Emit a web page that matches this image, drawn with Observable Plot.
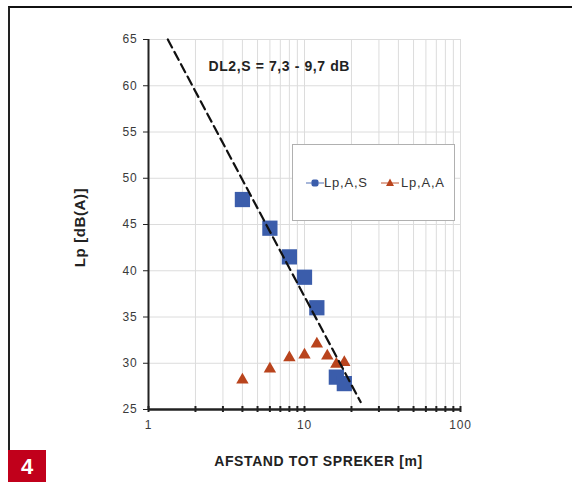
<!DOCTYPE html>
<html>
<head>
<meta charset="utf-8">
<script src="https://cdn.jsdelivr.net/npm/d3@7"></script>
<script src="https://cdn.jsdelivr.net/npm/@observablehq/plot@0.6"></script>
<style>
  html, body { margin: 0; padding: 0; background: #fff; }
  #wrap { position: relative; width: 572px; height: 482px; overflow: hidden; font-family: "Liberation Sans", Arial, sans-serif; }
  #frame { position: absolute; left: 8px; top: 6px; width: 570px; height: 444px; border-top: 2px solid #111; border-left: 2px solid #222; box-sizing: border-box; }
  #badge { position: absolute; left: 8px; top: 450px; width: 38px; height: 32px; background: #c1001b; color: #fff; font: bold 22px "Liberation Sans", Arial, sans-serif; text-align: center; line-height: 33px; }
  #legend { position: absolute; left: 292px; top: 144px; width: 163px; height: 77px; border: 1px solid #b0b0b0; background: #fff; box-sizing: border-box; }
  #legend .item { position: absolute; top: 30px; font-size: 13px; letter-spacing: 0.8px; color: #333; line-height: 16px; }
  #legend svg { position: absolute; top: 31px; }
  #chart { position: absolute; left: 0; top: 0; }
</style>
</head>
<body>
<div id="wrap">
  <div id="chart"></div>
  <div id="frame"></div>
  <div id="legend"></div>
  <div id="badge">4</div>
</div>
<script>
// ---- data ----
const distanceS = [4, 6, 8, 10, 12, 16, 18];
const lpAS = [47.7, 44.6, 41.5, 39.3, 36.0, 28.5, 27.8];
const distanceA = [4, 6, 8, 10, 12, 14, 16, 18];
const lpAA = [28.2, 29.4, 30.6, 30.9, 32.1, 30.8, 29.9, 30.1];
const trendX = [1.33, 22.9];
const trendY = [65, 25.8];
const seriesNames = ["Lp,A,S", "Lp,A,A"];
const xTicks = [1,2,3,4,5,6,7,8,9,10,20,30,40,50,60,70,80,90,100];
const xTickLabels = [1, 10, 100];
const yTicks = [25, 30, 35, 40, 45, 50, 55, 60, 65];
const annotation = "DL2,S = 7,3 - 9,7 dB";
const xTitle = "AFSTAND TOT SPREKER [m]";
const yTitle = "Lp [dB(A)]";

const blue = "#3b5dab";
const rust = "#b9441d";

const squares = distanceS.map((d, i) => ({x: d, y: lpAS[i]}));
const triangles = distanceA.map((d, i) => ({x: d, y: lpAA[i]}));
const trend = trendX.map((d, i) => ({x: d, y: trendY[i]}));

const chart = Plot.plot({
  width: 572,
  height: 482,
  marginLeft: 148,
  marginRight: 112,
  marginTop: 39,
  marginBottom: 73,
  style: {fontFamily: "'Liberation Sans', Arial, sans-serif", fontSize: "12px", background: "transparent", color: "#3a3a3a"},
  x: {type: "log", domain: [1, 100]},
  y: {domain: [25, 65]},
  marks: [
    Plot.gridX(xTicks, {stroke: "#dcdcdc", strokeOpacity: 1}),
    Plot.gridY(yTicks, {stroke: "#dcdcdc", strokeOpacity: 1}),
    Plot.axisX(xTicks, {tickSize: 0, tickPadding: 11, label: null, tickFormat: d => xTickLabels.includes(d) ? String(d) : ""}),
    Plot.axisY(yTicks, {tickSize: 5, tickPadding: 6, label: null, stroke: "#222"}),
    Plot.ruleX([1], {stroke: "#222", strokeWidth: 2}),
    Plot.ruleY([25], {stroke: "#222", strokeWidth: 2.5}),
    Plot.ruleX(xTicks, {y1: 25, y2: 25, insetTop: -3, insetBottom: -3, stroke: "#222", strokeWidth: 2}),
    Plot.dot(squares, {x: "x", y: "y", symbol: "square", r: 8.6, fill: blue, stroke: "none"}),
    Plot.dot(triangles, {x: "x", y: "y", symbol: "triangle", r: 4.6, fill: rust, stroke: "none"}),
    Plot.line(trend, {x: "x", y: "y", stroke: "#111", strokeWidth: 2.2, strokeDasharray: "9,5"}),
    Plot.text([annotation], {frameAnchor: "top-left", dx: 60, dy: 27, textAnchor: "start", lineAnchor: "middle", fontSize: 14, fontWeight: "bold", fill: "#222", text: d => d}),
    Plot.text([xTitle], {frameAnchor: "bottom", dx: 14, dy: 52, textAnchor: "middle", lineAnchor: "middle", fontSize: 14, fontWeight: "bold", fill: "#222", text: d => d}),
    Plot.text([yTitle], {frameAnchor: "left", dx: -68, dy: 3, rotate: -90, textAnchor: "middle", lineAnchor: "middle", fontSize: 15, fontWeight: "bold", fill: "#222", text: d => d})
  ]
});
document.getElementById("chart").appendChild(chart);

// letter-spacing for tick labels to mimic the wide source font
chart.querySelectorAll("g[aria-label='x-axis tick label'] text, g[aria-label='y-axis tick label'] text").forEach(t => t.setAttribute("letter-spacing", "0.8"));
chart.querySelectorAll("g[aria-label='text'] text").forEach(t => t.setAttribute("letter-spacing", "0.6"));

// legend
const legend = document.getElementById("legend");
const items = [
  {name: seriesNames[0], color: blue, shape: "square", left: 12, textLeft: 31},
  {name: seriesNames[1], color: rust, shape: "triangle", left: 87, textLeft: 108}
];
items.forEach(it => {
  const svg = d3.create("svg").attr("width", 20).attr("height", 14).style("left", it.left + "px");
  svg.append("line").attr("x1", 1).attr("x2", 19).attr("y1", 7).attr("y2", 7).attr("stroke", it.color).attr("stroke-width", 1.5).attr("stroke-opacity", 0.6);
  if (it.shape === "square") {
    svg.append("rect").attr("x", 6.5).attr("y", 3.5).attr("width", 7).attr("height", 7).attr("rx", 2).attr("fill", it.color);
  } else {
    svg.append("path").attr("d", "M10,2.5 L14,10 L6,10 Z").attr("fill", it.color);
  }
  legend.appendChild(svg.node());
  const span = document.createElement("div");
  span.className = "item";
  span.style.left = it.textLeft + "px";
  span.textContent = it.name;
  legend.appendChild(span);
});
</script>
</body>
</html>
